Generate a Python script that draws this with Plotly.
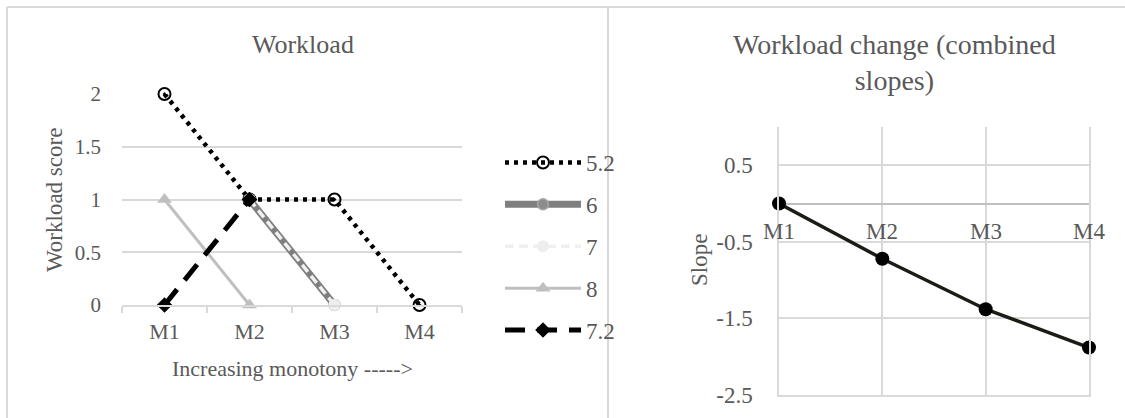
import plotly.graph_objects as go

W, H = 1125, 418

categories = ["M1", "M2", "M3", "M4"]
series_names = ["5.2", "6", "7", "8", "7.2"]
s_52 = [2, 1, 1, 0]
s_6 = [None, 1, 0, None]
s_7 = [None, 1, 0, None]
s_8 = [1, 0, None, None]
s_72 = [0, 1, None, None]
slope_values = [0, -0.72, -1.38, -1.88]
left_yticks = [0, 0.5, 1, 1.5, 2]
right_yticks = [-2.5, -1.5, -0.5, 0.5]

FONT = "Times New Roman, Liberation Serif, DejaVu Serif, serif"
TXT = "#595959"
GRID = "#d9d9d9"

def px(x):
    return x / W

def py(y):
    return 1 - y / H

fig = go.Figure()

styles = [
    dict(line=dict(color="#000000", width=4.5, dash="4px,5px"),
         marker=dict(symbol="circle-open-dot", size=12, color="#000000", line=dict(width=2, color="#000000"))),
    dict(line=dict(color="#7f7f7f", width=7),
         marker=dict(symbol="circle", size=11, color="#8c8c8c", line=dict(width=1.5, color="#a6a6a6"))),
    dict(line=dict(color="#f0f0f0", width=3.5, dash="9px,5px"),
         marker=dict(symbol="circle", size=12, color="#eeeeee", line=dict(width=0))),
    dict(line=dict(color="#bfbfbf", width=3),
         marker=dict(symbol="triangle-up", size=13, color="#bfbfbf", line=dict(width=0))),
    dict(line=dict(color="#000000", width=5, dash="20px,12px"),
         marker=dict(symbol="diamond", size=12, color="#000000", line=dict(width=0))),
]
all_series = [s_52, s_6, s_7, s_8, s_72]
for name, vals, st in zip(series_names, all_series, styles):
    fig.add_trace(go.Scatter(
        x=categories, y=vals, name=name, mode="lines+markers",
        line=st["line"], marker=st["marker"], connectgaps=False,
        cliponaxis=False, xaxis="x", yaxis="y", legendgroup=name,
    ))

fig.add_trace(go.Scatter(
    x=categories, y=slope_values, name="Slope", mode="lines+markers",
    line=dict(color="#1c1c16", width=3.5),
    marker=dict(symbol="circle", size=14, color="#000000"),
    cliponaxis=False, xaxis="x2", yaxis="y2", showlegend=False,
))

fig.update_layout(
    width=W, height=H,
    margin=dict(l=0, r=0, t=0, b=0, pad=0, autoexpand=False),
    paper_bgcolor="white", plot_bgcolor="white",
    font=dict(family=FONT, color=TXT, size=21),
    showlegend=True,
    legend=dict(
        x=px(500), y=py(141), xanchor="left", yanchor="top",
        font=dict(family=FONT, size=23, color=TXT),
        itemwidth=76, tracegroupgap=9, bgcolor="rgba(0,0,0,0)",
    ),
    xaxis=dict(
        domain=[px(122), px(462)], anchor="y", automargin=False,
        type="category", categoryorder="array", categoryarray=categories,
        range=[-0.5, 3.5], showgrid=False, zeroline=False,
        showline=True, linecolor=GRID, linewidth=1.5,
        ticks="outside", tickson="boundaries", ticklen=6, tickcolor=GRID, tickwidth=1.5,
        tickfont=dict(size=22, color=TXT, family=FONT), ticklabelstandoff=6,
    ),
    yaxis=dict(
        domain=[py(305), py(94)], anchor="x", automargin=False,
        range=[0, 2], tickvals=left_yticks, ticktext=[f"{v:g}" for v in left_yticks],
        showgrid=True, gridcolor=GRID, gridwidth=1.5, zeroline=False, showline=False,
        tickfont=dict(size=21, color=TXT, family=FONT), ticklabelstandoff=20,
    ),
    xaxis2=dict(
        domain=[px(779), px(1089)], anchor="y2", automargin=False,
        type="category", categoryorder="array", categoryarray=categories,
        range=[0, 3], showgrid=True, gridcolor=GRID, gridwidth=1.5,
        zeroline=False, showline=True, linecolor=GRID, linewidth=1.5, mirror=False,
        showticklabels=False, ticks="",
    ),
    yaxis2=dict(
        domain=[py(395), py(127)], anchor="x2", automargin=False,
        range=[-2.5, 1.0], tickvals=right_yticks, ticktext=[f"{v:g}" for v in right_yticks],
        showgrid=True, gridcolor=GRID, gridwidth=1.5,
        zeroline=True, zerolinecolor="#bfbfbf", zerolinewidth=1.5,
        showline=True, linecolor=GRID, linewidth=1.5, mirror=True,
        tickfont=dict(size=23, color=TXT, family=FONT), ticklabelstandoff=20,
    ),
)

annotations = [
    dict(text="Workload", x=px(303), y=py(45), xref="paper", yref="paper",
         xanchor="center", yanchor="middle", showarrow=False,
         font=dict(size=26, color=TXT, family=FONT)),
    dict(text="Workload change (combined<br>slopes)", x=px(894), y=py(62), xref="paper", yref="paper",
         xanchor="center", yanchor="middle", showarrow=False,
         font=dict(size=28, color=TXT, family=FONT)),
    dict(text="Workload score", x=px(54), y=py(200), xref="paper", yref="paper",
         xanchor="center", yanchor="middle", showarrow=False, textangle=-90,
         font=dict(size=23, color=TXT, family=FONT)),
    dict(text="Increasing monotony ----->", x=px(292), y=py(368), xref="paper", yref="paper",
         xanchor="center", yanchor="middle", showarrow=False,
         font=dict(size=22, color=TXT, family=FONT)),
    dict(text="Slope", x=px(699), y=py(260), xref="paper", yref="paper",
         xanchor="center", yanchor="middle", showarrow=False, textangle=-90,
         font=dict(size=23, color=TXT, family=FONT)),
]
for c in categories:
    annotations.append(dict(text=c, x=c, y=0, xref="x2", yref="y2",
                            xanchor="center", yanchor="middle", yshift=-28, showarrow=False,
                            font=dict(size=23, color=TXT, family=FONT)))
fig.update_layout(annotations=annotations)

border = dict(color=GRID, width=2)
fig.update_layout(shapes=[
    dict(type="line", xref="paper", yref="paper", x0=px(7), x1=1, y0=py(7), y1=py(7), line=border),
    dict(type="line", xref="paper", yref="paper", x0=px(7), x1=px(7), y0=0, y1=py(7), line=border),
    dict(type="line", xref="paper", yref="paper", x0=px(608), x1=px(608), y0=0, y1=py(7), line=border),
])

fig.write_html("out.html")
